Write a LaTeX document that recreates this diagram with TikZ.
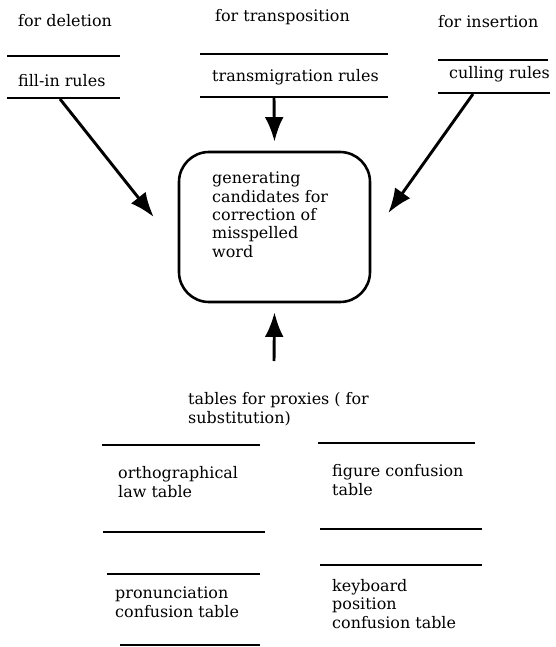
\documentclass[tikz,border=0pt]{standalone}
\usepackage{fontspec}
\setmainfont{DejaVu Serif}
\usetikzlibrary{arrows.meta}

\begin{document}
\begin{tikzpicture}[x=0.03cm, y=-0.03cm,
  font=\fontsize{13.6}{15.6}\selectfont,
  txt/.style={anchor=base west, inner sep=0pt, align=left},
  store/.style={line width=2.3pt},
  flow/.style={line width=2.5pt, -{Latex[length=21pt, width=16pt]}},
  procbox/.style={draw, line width=2.2pt, rounded corners=0.9cm, minimum width=5.73cm, minimum height=4.5cm}]
\useasboundingbox (0,0) rectangle (555,647);

\node (del) [txt] at (18,27) {for deletion};
\node (fillin) [txt] at (18,86) {fill-in rules};
\draw[store] (7,56) -- (120,56);
\draw[store] (7,98) -- (120,98);

\node (trans) [txt] at (215,22) {for transposition};
\node (transmig) [txt] at (212,82) {transmigration rules};
\draw[store] (200,54) -- (388,54);
\draw[store] (200,97) -- (388,97);

\node (ins) [txt] at (438,28) {for insertion};
\node (culling) [txt] at (449,79) {culling rules};
\draw[store] (438,60) -- (548,60);
\draw[store] (438,93) -- (550,93);

\node (gen) [procbox] at (274.5,227) {};
\node (gentext) [txt] at (212,257) {generating\\candidates for\\correction of\\misspelled\\word};

\coordinate (delout) at (60,99);
\coordinate (transout) at (274,98);
\coordinate (insout) at (473,94);
\coordinate (proxout) at (274,361);
\draw[flow] (delout) -- ([shift={(-24,-10)}]gen.west);
\draw[flow] (transout) -- ([shift={(0,-9)}]gen.north);
\draw[flow] (insout) -- ([shift={(17,-14)}]gen.east);
\draw[flow] (proxout) -- ([shift={(0,9)}]gen.south);

\node (prox) [txt] at (188,423) {tables for proxies ( for\\substitution)};

\node (orth) [txt] at (118,497) {orthographical\\law table};
\draw[store] (102,445) -- (260,445);
\draw[store] (103,532) -- (265,532);

\node (pron) [txt] at (115,617) {pronunciation\\confusion table};
\draw[store] (107,574) -- (260,574);
\draw[store] (120,645) -- (260,645);

\node (fig) [txt] at (332,495) {figure confusion\\table};
\draw[store] (318,443) -- (475,443);
\draw[store] (320,529) -- (482,529);

\node (key) [txt] at (332,628) {keyboard\\position\\confusion table};
\draw[store] (320,565) -- (482,565);
\end{tikzpicture}
\end{document}
